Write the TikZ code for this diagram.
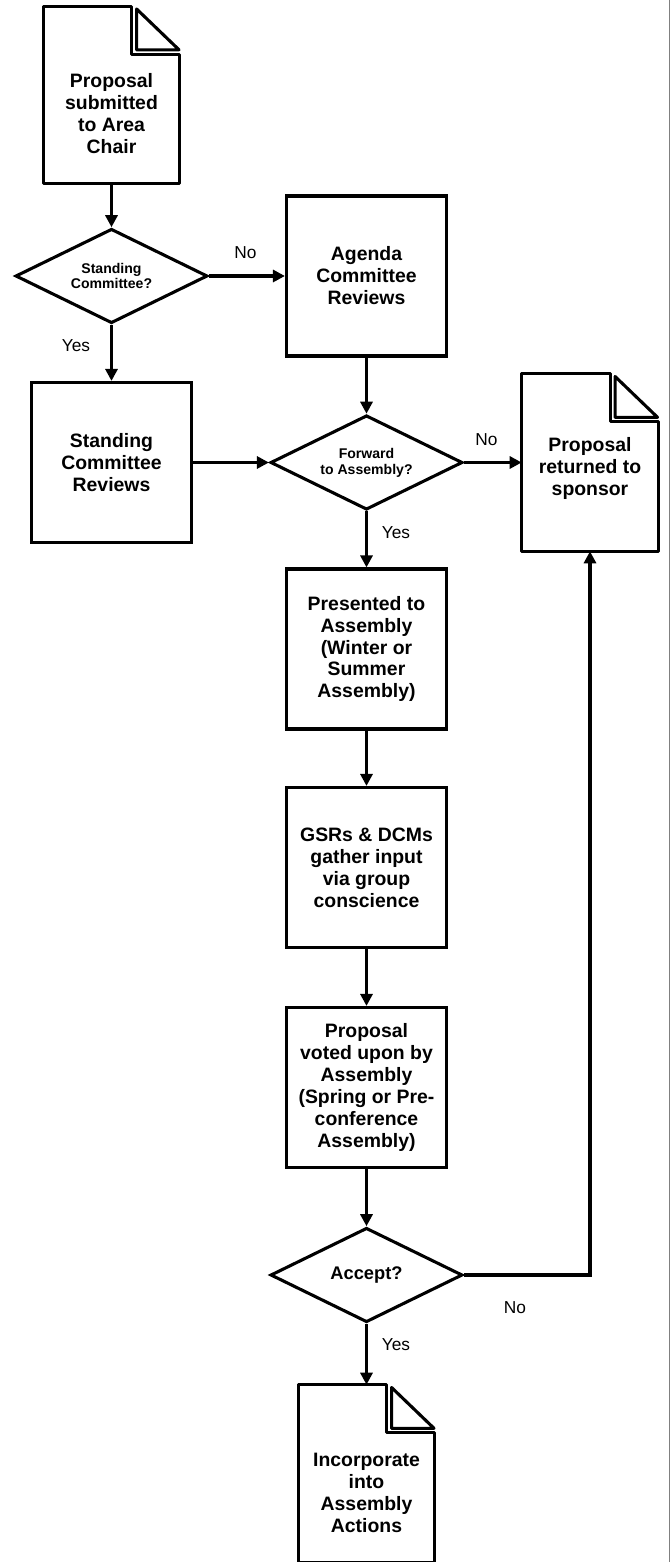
\documentclass[tikz,border=0pt]{standalone}
\usepackage{fontspec}
\setmainfont{Liberation Sans}
\usetikzlibrary{shapes.geometric, arrows.meta}

\tikzset{
  flow/.style={
    line width=2.2pt,
    -{Triangle[length=0.3cm, width=0.3cm]}
  },
  box/.style={
    draw,
    line width=2.2pt,
    fill=white,
    minimum width=4cm,
    minimum height=4cm,
    align=center,
    font=\fontsize{13.8}{15.6}\selectfont\bfseries
  },
  decision/.style={
    diamond,
    draw,
    line width=2.2pt,
    fill=white,
    aspect=2,
    inner sep=0pt,
    minimum width=4.8cm,
    minimum height=2.36cm,
    align=center,
    font=\fontsize{10}{11.2}\selectfont\bfseries
  },
  doc/.style={
    minimum width=3.4cm,
    minimum height=4.425cm,
    inner sep=0pt
  },
  doctext/.style={
    align=center,
    font=\fontsize{13.8}{15.6}\selectfont\bfseries
  },
  docline/.style={
    line width=2.2pt,
    line join=round
  },
  answer/.style={
    font=\fontsize{12.3}{14}\selectfont
  }
}

\begin{document}
\begin{tikzpicture}[x=0.025cm, y=-0.025cm]
  \useasboundingbox (0,0) rectangle (670,1562);

  % left column
  \node[doc] (p1) at (111.5, 95) {};
  \node[decision] (q1) at (111.5, 276) {Standing\\Committee?};
  \node[box] (standing) at (111.5, 462.5) {Standing\\Committee\\Reviews};

  % main column
  \node[box] (agenda) at (366.5, 276) {Agenda\\Committee\\Reviews};
  \node[decision] (q2) at (366.5, 462.5) {Forward\\to Assembly?};
  \node[box] (presented) at (366.5, 649) {Presented to\\Assembly\\(Winter or\\Summer\\Assembly)};
  \node[box] (gather) at (366.5, 867.5) {GSRs \& DCMs\\gather input\\via group\\conscience};
  \node[box] (voted) at (366.5, 1087.5) {Proposal\\voted upon by\\Assembly\\(Spring or Pre-\\conference\\Assembly)};
  \node[decision, font=\fontsize{13}{15.5}\selectfont\bfseries] (q3) at (366.5, 1275) {Accept?};
  \node[doc] (incorp) at (366.5, 1473.5) {};

  % right column
  \node[doc] (ret) at (590, 462.5) {};

  % document outlines with folded corner
  \foreach \d in {p1, ret, incorp} {
    \draw[docline] (\d.north west) -- ([xshift=-1.2cm]\d.north east)
      |- ([yshift=-1.2cm]\d.north east) -- (\d.south east)
      -- (\d.south west) -- cycle;
    \draw[docline] ([xshift=-1.08cm, yshift=-0.07cm]\d.north east)
      -- ([xshift=-1.08cm, yshift=-1.09cm]\d.north east)
      -- ([xshift=-0.02cm, yshift=-1.09cm]\d.north east) -- cycle;
  }
  \node[doctext] (p1txt) at ([yshift=-0.46cm]p1.center) {Proposal\\submitted\\to Area\\Chair};
  \node[doctext] (rettxt) at ([yshift=-0.14cm]ret.center) {Proposal\\returned to\\sponsor};
  \node[doctext] (incorptxt) at ([yshift=-0.48cm]incorp.center) {Incorporate\\into\\Assembly\\Actions};

  % connectors
  \draw[flow] (p1) -- (q1);
  \draw[flow] (q1) -- (agenda);
  \draw[flow] (q1) -- (standing);
  \draw[flow] (agenda) -- (q2);
  \draw[flow] (standing) -- (q2);
  \draw[flow] (q2) -- (ret);
  \draw[flow] (q2) -- (presented);
  \draw[flow] (presented) -- (gather);
  \draw[flow] (gather) -- (voted);
  \draw[flow] (voted) -- (q3);
  \draw[flow] (q3) -- (incorp);
  \draw[flow] (q3.east) -| (ret.south);

  % answers
  \node[answer] (noA) at (245.5, 253) {No};
  \node[answer] (yesA) at (76, 346) {Yes};
  \node[answer] (noB) at (486.5, 440) {No};
  \node[answer] (yesB) at (396, 532.5) {Yes};
  \node[answer] (noC) at (515, 1308) {No};
  \node[answer] (yesC) at (396, 1345) {Yes};

  % page edge
  \draw[gray, line width=0.5pt] (669.3,0) -- (669.3,1562);
\end{tikzpicture}
\end{document}
